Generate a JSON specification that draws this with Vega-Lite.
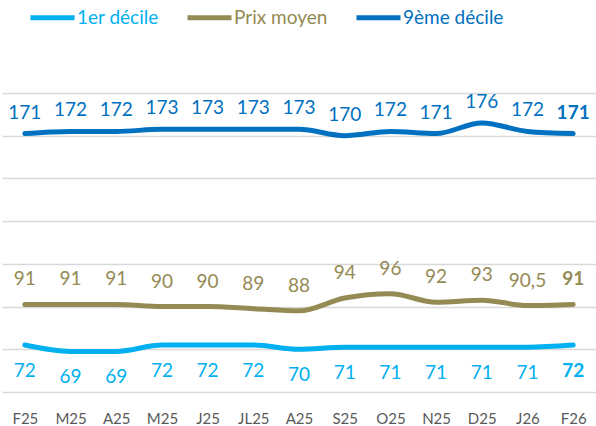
{
  "$schema": "https://vega.github.io/schema/vega-lite/v6.json",
  "autosize": {"type": "none"},
  "width": 594,
  "height": 299,
  "padding": {"left": 2, "top": 93, "right": 0, "bottom": 34},
  "background": "white",
  "config": {
    "view": {"stroke": null},
    "font": "Lato",
    "locale": {"number": {"decimal": ",", "thousands": " ", "grouping": [3], "currency": ["", " €"]}}
  },
  "data": {
    "values": [
      {"month": "F25", "series": "1er décile", "value": 72},
      {"month": "M25a", "series": "1er décile", "value": 69},
      {"month": "A25a", "series": "1er décile", "value": 69},
      {"month": "M25b", "series": "1er décile", "value": 72},
      {"month": "J25", "series": "1er décile", "value": 72},
      {"month": "JL25", "series": "1er décile", "value": 72},
      {"month": "A25b", "series": "1er décile", "value": 70},
      {"month": "S25", "series": "1er décile", "value": 71},
      {"month": "O25", "series": "1er décile", "value": 71},
      {"month": "N25", "series": "1er décile", "value": 71},
      {"month": "D25", "series": "1er décile", "value": 71},
      {"month": "J26", "series": "1er décile", "value": 71},
      {"month": "F26", "series": "1er décile", "value": 72},
      {"month": "F25", "series": "Prix moyen", "value": 91},
      {"month": "M25a", "series": "Prix moyen", "value": 91},
      {"month": "A25a", "series": "Prix moyen", "value": 91},
      {"month": "M25b", "series": "Prix moyen", "value": 90},
      {"month": "J25", "series": "Prix moyen", "value": 90},
      {"month": "JL25", "series": "Prix moyen", "value": 89},
      {"month": "A25b", "series": "Prix moyen", "value": 88},
      {"month": "S25", "series": "Prix moyen", "value": 94},
      {"month": "O25", "series": "Prix moyen", "value": 96},
      {"month": "N25", "series": "Prix moyen", "value": 92},
      {"month": "D25", "series": "Prix moyen", "value": 93},
      {"month": "J26", "series": "Prix moyen", "value": 90.5},
      {"month": "F26", "series": "Prix moyen", "value": 91},
      {"month": "F25", "series": "9ème décile", "value": 171},
      {"month": "M25a", "series": "9ème décile", "value": 172},
      {"month": "A25a", "series": "9ème décile", "value": 172},
      {"month": "M25b", "series": "9ème décile", "value": 173},
      {"month": "J25", "series": "9ème décile", "value": 173},
      {"month": "JL25", "series": "9ème décile", "value": 173},
      {"month": "A25b", "series": "9ème décile", "value": 173},
      {"month": "S25", "series": "9ème décile", "value": 170},
      {"month": "O25", "series": "9ème décile", "value": 172},
      {"month": "N25", "series": "9ème décile", "value": 171},
      {"month": "D25", "series": "9ème décile", "value": 176},
      {"month": "J26", "series": "9ème décile", "value": 172},
      {"month": "F26", "series": "9ème décile", "value": 171}
    ]
  },
  "encoding": {
    "x": {
      "field": "month", "type": "ordinal", "sort": null,
      "scale": {"type": "point", "padding": 0.5},
      "axis": {
        "title": null, "domain": false, "ticks": false, "grid": false,
        "labelAngle": 0, "labelFontSize": 15, "labelColor": "#595959",
        "labelPadding": 19, "labelFont": "Lato",
        "labelExpr": "replace(datum.value, /[ab]$/, '')"
      }
    },
    "y": {
      "field": "value", "type": "quantitative",
      "scale": {"domain": [50, 190], "nice": false, "zero": false},
      "axis": {
        "title": null, "labels": false, "ticks": false, "domain": false,
        "values": [50, 70, 90, 110, 130, 150, 170, 190],
        "gridColor": "#d9d9d9", "gridWidth": 1.5
      }
    },
    "color": {
      "field": "series", "type": "nominal",
      "scale": {"domain": ["1er décile", "Prix moyen", "9ème décile"], "range": ["#00b0f0", "#948a54", "#0070c0"]}
    }
  },
  "layer": [
    {
      "mark": {"type": "line", "strokeWidth": 5, "interpolate": "monotone", "strokeCap": "round"},
      "encoding": {
        "color": {
          "field": "series", "type": "nominal",
          "scale": {"domain": ["1er décile", "Prix moyen", "9ème décile"], "range": ["#00b0f0", "#948a54", "#0070c0"]},
          "legend": {
            "title": null, "orient": "none", "direction": "horizontal",
            "legendX": 26, "legendY": -100, "padding": 0,
            "symbolType": "stroke", "symbolSize": 1936, "symbolStrokeWidth": 5,
            "labelFontSize": 19, "labelFont": "Lato", "labelOffset": 0, "columnPadding": 18,
            "encode": {"labels": {"update": {"fill": {"scale": "color", "field": "value"}}}}
          }
        }
      }
    },
    {
      "mark": {
        "type": "text", "fontSize": 19, "font": "Lato",
        "dy": {"expr": "datum.series === '1er décile' ? 26 : datum.series === 'Prix moyen' ? -25 : -21"},
        "fontWeight": {"expr": "datum.month === 'F26' ? 'bold' : 'normal'"}
      },
      "encoding": {
        "text": {"field": "value", "type": "quantitative", "format": "~g"}
      }
    }
  ]
}
